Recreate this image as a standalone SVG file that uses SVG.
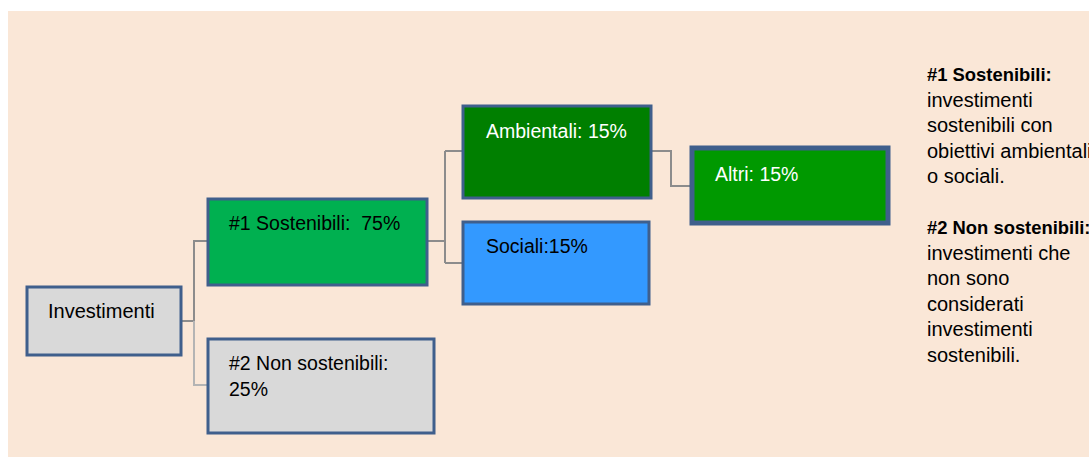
<svg xmlns="http://www.w3.org/2000/svg" width="1089" height="457" viewBox="0 0 1089 457">
<style>
.box{stroke:#3F5F8C;stroke-width:3}
.t{font-family:"Liberation Sans",Arial,sans-serif;font-size:19.5px;fill:#000}
.w{fill:#fff}
.c{fill:none;stroke:#8C8C8C;stroke-width:2}
.side{font-family:"Liberation Sans",Arial,sans-serif;font-size:20px;fill:#000}
.b{font-weight:bold;font-size:18.4px}
</style>
<rect x="8" y="11" width="1081" height="446" fill="#FAE7D7"/>
<g id="connectors">
<path class="c" d="M181 321H194V241H208"/>
<path class="c" d="M194 321V385H208" style="stroke:#B4B4B4"/>
<path class="c" d="M427 241H445M445 151V263M445 151H463M445 263H463"/>
<path class="c" d="M651 151H671V186H691"/>
</g>
<g id="investimenti">
<rect class="box" x="27" y="287" width="154" height="68" fill="#D9D9D9"/>
<text class="t" x="48" y="318" style="font-size:20px">Investimenti</text>
</g>
<g id="sostenibili">
<rect class="box" x="208" y="199" width="219" height="86" fill="#00B050"/>
<text class="t" x="229" y="230" xml:space="preserve">#1 Sostenibili:  75%</text>
</g>
<g id="non-sostenibili">
<rect class="box" x="208" y="339" width="226" height="94" fill="#D9D9D9"/>
<text class="t" x="229" y="370">#2 Non sostenibili:</text>
<text class="t" x="229" y="396">25%</text>
</g>
<g id="ambientali">
<rect class="box" x="463" y="106" width="188" height="92" fill="#007F00"/>
<text class="t w" x="486" y="138">Ambientali: 15%</text>
</g>
<g id="sociali">
<rect class="box" x="463" y="222" width="186" height="82" fill="#3399FF"/>
<text class="t" x="486" y="253">Sociali:15%</text>
</g>
<g id="altri">
<rect x="692" y="148" width="196" height="75" fill="#009900" stroke="#3F5F8C" stroke-width="5"/>
<text class="t w" x="715" y="181">Altri: 15%</text>
</g>
<g id="legend">
<text class="side b" x="927" y="81">#1 Sostenibili:</text>
<text class="side" x="927" y="106.5">investimenti</text>
<text class="side" x="927" y="132">sostenibili con</text>
<text class="side" x="927" y="157.5">obiettivi ambientali</text>
<text class="side" x="927" y="183">o sociali.</text>
<text class="side b" x="927" y="234">#2 Non sostenibili:</text>
<text class="side" x="927" y="259.5">investimenti che</text>
<text class="side" x="927" y="285">non sono</text>
<text class="side" x="927" y="310.5">considerati</text>
<text class="side" x="927" y="336">investimenti</text>
<text class="side" x="927" y="361.5">sostenibili.</text>
</g>
</svg>
